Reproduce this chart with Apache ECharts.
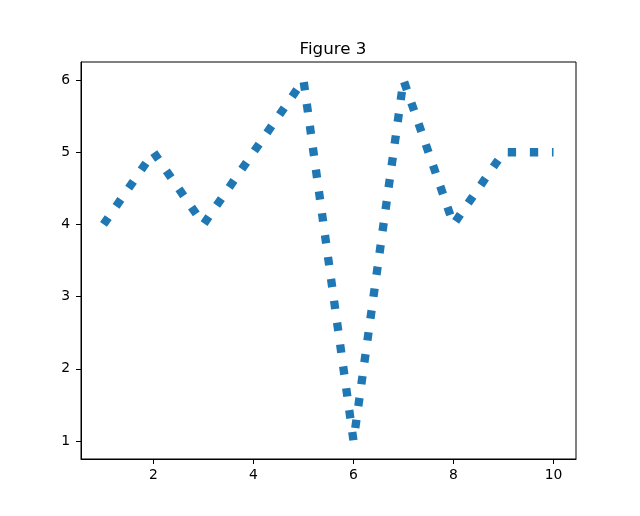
<!DOCTYPE html>
<html><head><meta charset="utf-8">
<script src="https://cdn.jsdelivr.net/npm/echarts@6/dist/echarts.min.js"></script>
<style>html,body{margin:0;padding:0;background:#fff}#c{width:640px;height:516px}</style>
</head><body><div id="c"></div>
<script>
const xValues = [1, 2, 3, 4, 5, 6, 7, 8, 9, 10];
const yValues = [4, 5, 4, 5, 6, 1, 6, 4, 5, 5];
const xTicks = [2, 4, 6, 8, 10];
const yTicks = [1, 2, 3, 4, 5, 6];
const titleText = 'Figure 3';

const chart = echarts.init(document.getElementById('c'), null, {renderer: 'canvas'});
const font = 'DejaVu Sans';
chart.setOption({
  animation: false,
  title: {text: titleText, left: 328, top: 36, textAlign: 'center',
    textStyle: {fontFamily: font, fontSize: 16.7, fontWeight: 'normal', color: '#000'}},
  grid: {left: 81, right: 64, top: 62, bottom: 57, show: true, borderColor: '#000', borderWidth: 1, backgroundColor: 'transparent'},
  xAxis: {type: 'value', min: 0.55, max: 10.45,
    axisLine: {show: true, onZero: false, lineStyle: {color: '#000', width: 1}},
    axisTick: {show: true, length: 5, customValues: xTicks, lineStyle: {color: '#000'}},
    axisLabel: {customValues: xTicks, color: '#000', fontFamily: font, fontSize: 13.9, margin: 9},
    splitLine: {show: false}},
  yAxis: {type: 'value', min: 0.75, max: 6.25,
    axisLine: {show: true, onZero: false, lineStyle: {color: '#000', width: 1}},
    axisTick: {show: true, length: 5, customValues: yTicks, lineStyle: {color: '#000'}},
    axisLabel: {customValues: yTicks, color: '#000', fontFamily: font, fontSize: 13.9, margin: 11},
    splitLine: {show: false}},
  series: [{type: 'line', data: xValues.map((x, i) => [x, yValues[i]]),
    showSymbol: false, symbol: 'none',
    lineStyle: {color: '#1f77b4', width: 8.33, type: [8.33, 13.75], cap: 'butt', join: 'round'}}]
});
</script></body></html>
